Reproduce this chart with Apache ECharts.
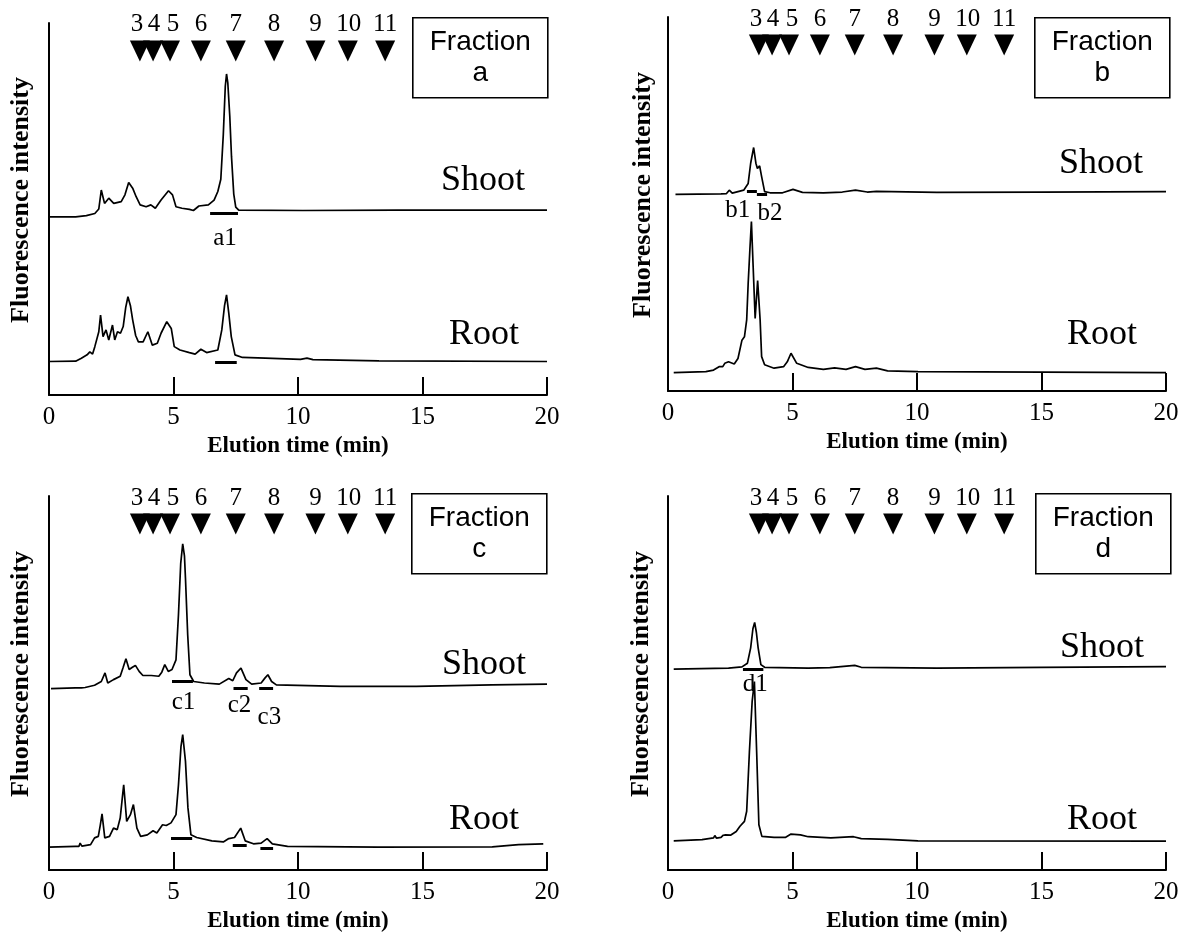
<!DOCTYPE html>
<html>
<head>
<meta charset="utf-8">
<script src="https://cdn.jsdelivr.net/npm/echarts/dist/echarts.min.js"></script>
<style>
  html, body { margin: 0; padding: 0; background: #ffffff; }
  #chart { width: 1190px; height: 936px; }
</style>
</head>
<body>
<div id="chart"></div>
<script>
// ---- Data: chromatogram traces [elution time (min), displayed intensity] ----
// Shoot traces sit above the root traces on the same intensity scale.
const shootA = [[0,47.9],[1.07,47.9],[1.5,48.2],[1.84,48.8],[2.0,50.0],[2.1,55.1],[2.23,51.5],[2.4,52.9],[2.6,51.5],[2.9,52.0],[3.05,53.8],[3.2,57.1],[3.36,55.6],[3.5,53.3],[3.66,51.1],[3.9,50.6],[4.09,51.1],[4.27,50.2],[4.5,52.4],[4.8,54.9],[4.96,53.8],[5.1,50.6],[5.34,50.2],[5.64,49.9],[5.8,49.6],[6.02,50.8],[6.4,51.1],[6.63,52.4],[6.78,54.7],[6.9,58.0],[7.0,70.0],[7.08,83.0],[7.13,86.3],[7.18,84.0],[7.26,75.0],[7.33,64.0],[7.42,54.0],[7.5,50.5],[7.62,49.7],[10.2,49.6],[14,49.7],[20,49.7]];
const rootA = [[0,9.0],[1.07,9.1],[1.3,9.9],[1.53,10.8],[1.64,11.6],[1.75,11.0],[1.84,13.0],[2.0,17.0],[2.07,21.5],[2.17,15.7],[2.29,17.5],[2.4,14.8],[2.55,18.8],[2.64,14.8],[2.75,17.0],[2.87,16.6],[2.98,18.4],[3.08,23.5],[3.17,26.4],[3.27,24.0],[3.36,20.2],[3.48,16.0],[3.59,14.3],[3.78,14.3],[3.97,17.0],[4.15,13.4],[4.35,13.9],[4.5,16.6],[4.73,19.7],[4.91,17.9],[5.03,13.0],[5.26,12.1],[5.64,11.4],[5.87,11.0],[6.1,12.3],[6.33,11.4],[6.78,12.1],[6.94,17.5],[7.05,24.0],[7.13,26.9],[7.22,22.0],[7.32,15.7],[7.47,10.8],[7.77,10.1],[8.69,9.9],[10.1,9.6],[10.36,9.9],[10.6,9.5],[13.25,9.2],[20,9.0]];

const shootB = [[0.3,52.6],[2.13,52.7],[2.35,52.8],[2.46,53.7],[2.58,52.9],[2.66,53.0],[3.04,53.7],[3.22,55.5],[3.32,60.9],[3.44,65.1],[3.53,60.9],[3.59,59.5],[3.68,60.2],[3.76,57.3],[3.88,53.3],[4.1,53.0],[4.6,53.0],[5.02,53.9],[5.4,53.1],[6.24,53.0],[7.0,53.2],[7.53,53.7],[8.0,53.2],[8.37,53.4],[10.8,53.1],[15,53.2],[20,53.3]];
const rootB = [[0.23,4.9],[1.52,5.2],[1.83,5.6],[2.05,6.5],[2.12,7.0],[2.2,6.5],[2.28,7.4],[2.43,7.8],[2.66,7.2],[2.81,8.7],[2.97,13.6],[3.07,14.5],[3.16,19.0],[3.22,28.8],[3.29,38.0],[3.35,45.3],[3.42,33.2],[3.5,19.4],[3.6,29.5],[3.7,19.0],[3.76,9.2],[3.88,7.0],[4.26,6.1],[4.64,6.5],[4.79,7.8],[4.94,10.1],[5.17,7.4],[5.63,6.3],[6.24,5.8],[6.69,6.2],[7.15,5.8],[7.53,6.5],[7.91,5.8],[8.37,6.1],[8.82,5.4],[10.04,5.2],[20,4.9]];

const shootC = [[0.08,48.5],[1.06,48.7],[1.3,48.7],[1.37,49.1],[1.45,48.8],[1.83,49.4],[2.1,50.4],[2.25,52.7],[2.36,50.0],[2.59,50.9],[2.86,51.8],[2.97,54.0],[3.09,56.5],[3.22,53.6],[3.35,54.2],[3.47,54.7],[3.62,53.1],[3.77,52.0],[4.11,52.0],[4.41,51.8],[4.53,52.9],[4.65,54.9],[4.79,53.1],[4.94,53.6],[5.1,56.2],[5.2,68.3],[5.29,82.0],[5.37,87.2],[5.44,84.0],[5.48,78.1],[5.57,62.9],[5.66,52.2],[5.81,50.4],[6.24,50.0],[6.84,49.7],[7.22,51.2],[7.38,50.6],[7.53,52.7],[7.71,54.0],[7.91,50.9],[8.14,49.7],[8.52,50.0],[8.67,51.3],[8.79,52.2],[8.94,50.4],[9.13,49.5],[11.7,49.1],[14.75,49.1],[17.8,49.5],[20,49.7]];
const rootC = [[0,6.1],[1.06,6.3],[1.2,6.3],[1.25,7.2],[1.32,6.4],[1.67,6.8],[1.83,8.6],[1.98,9.0],[2.06,12.0],[2.13,15.0],[2.24,8.6],[2.43,9.0],[2.59,11.2],[2.74,10.8],[2.86,13.9],[2.94,19.0],[3.0,22.8],[3.12,13.0],[3.27,14.8],[3.39,17.5],[3.53,11.2],[3.68,9.0],[3.95,9.4],[4.18,10.5],[4.33,9.9],[4.56,12.1],[4.71,11.9],[4.9,12.6],[5.1,14.8],[5.2,22.8],[5.3,33.0],[5.37,36.2],[5.48,29.1],[5.58,16.6],[5.7,9.4],[5.93,8.7],[6.54,7.8],[7.0,7.5],[7.22,8.4],[7.45,8.7],[7.7,11.2],[7.88,7.8],[8.21,7.0],[8.52,7.2],[8.76,8.4],[8.97,7.0],[9.58,6.3],[13.2,6.1],[17.8,6.2],[18.86,6.8],[19.85,7.0]];

const shootD = [[0.23,53.7],[2.43,54.0],[2.97,54.3],[3.19,55.3],[3.32,59.4],[3.41,64.5],[3.48,66.2],[3.55,63.5],[3.62,59.4],[3.73,54.9],[3.88,54.2],[5.63,54.0],[6.5,54.1],[7.5,54.7],[7.76,54.2],[10.8,54.0],[15,54.2],[20,54.4]];
const rootD = [[0.23,7.8],[1.37,8.1],[1.83,8.6],[1.88,9.2],[1.95,8.5],[2.13,8.7],[2.22,9.3],[2.31,9.4],[2.51,9.3],[2.74,10.3],[2.89,11.7],[3.07,13.0],[3.16,15.7],[3.27,31.7],[3.38,45.1],[3.47,50.4],[3.56,31.7],[3.65,12.1],[3.77,9.0],[4.26,8.7],[4.71,8.7],[4.94,9.6],[5.32,9.4],[5.63,8.9],[6.54,8.6],[7.45,8.9],[7.76,8.4],[8.82,8.2],[10.04,7.8],[20,7.7]];

// Collected fractions: [start, end, level]
const barsA = [[6.47,7.59,48.9],[6.67,7.54,8.8]];
const barsB = [[3.17,3.57,53.4],[3.57,3.98,52.5]];
const barsC = [[4.94,5.78,50.4],[7.41,7.98,48.7],[8.44,9.0,48.7],[4.9,5.75,8.4],[7.38,7.94,6.6],[8.49,9.0,5.9]];
const barsD = [[3.01,3.83,53.7]];

// Fraction names [time, level, text]
const peakNamesA = [[7.07,42.0,'a1']];
const peakNamesB = [[2.8,48.4,'b1'],[4.1,47.6,'b2']];
const peakNamesC = [[5.4,44.7,'c1'],[7.65,44.0,'c2'],[8.85,40.9,'c3']];
const peakNamesD = [[3.5,49.6,'d1']];

// Standard markers (elution times) and their numbers
const standardTimes = [3.65, 4.18, 4.86, 6.1, 7.5, 9.04, 10.7, 12.0, 13.5];
const standardNames = ['3','4','5','6','7','8','9','10','11'];

const xTicks = [0, 5, 10, 15, 20];

// ---- Layout ----
const SERIF = '"Liberation Serif", "Times New Roman", serif';
const SANS = '"Liberation Sans", Arial, sans-serif';
const markerLevel = 92.5;
// horizontal nudges so the crowded marker numbers stay readable
const markerLabelShift = [-3, 1, 3, 0, 0, 0, 0, 1, 0];

const panels = [
  { frac: 'a', shoot: shootA, root: rootA, bars: barsA, names: peakNamesA,
    grid: { left: 49, top: 23, width: 498, height: 372 }, yGap: 15,
    box: [412, 17], shootLbl: [483, 181], rootLbl: [484, 335] },
  { frac: 'b', shoot: shootB, root: rootB, bars: barsB, names: peakNamesB,
    grid: { left: 668, top: 17, width: 498, height: 374 }, yGap: 12,
    box: [1034, 17], shootLbl: [1101, 164], rootLbl: [1102, 335] },
  { frac: 'c', shoot: shootC, root: rootC, bars: barsC, names: peakNamesC,
    grid: { left: 49, top: 496, width: 498, height: 374 }, yGap: 15,
    box: [411, 493], shootLbl: [484, 665], rootLbl: [484, 820] },
  { frac: 'd', shoot: shootD, root: rootD, bars: barsD, names: peakNamesD,
    grid: { left: 668, top: 496, width: 498, height: 374 }, yGap: 14,
    box: [1035, 493], shootLbl: [1102, 648], rootLbl: [1102, 820] }
];

const grids = [], xAxes = [], yAxes = [], series = [], graphics = [];

panels.forEach((p, i) => {
  grids.push(Object.assign({ containLabel: false }, p.grid));

  xAxes.push({
    gridIndex: i, type: 'value', min: xTicks[0], max: xTicks[xTicks.length - 1], interval: 5,
    name: 'Elution time (min)', nameLocation: 'middle', nameGap: 40,
    nameTextStyle: { fontFamily: SERIF, fontWeight: 'bold', fontSize: 23, color: '#000' },
    axisLine: { show: true, onZero: false, lineStyle: { color: '#000', width: 2 } },
    axisTick: { show: true, inside: true, length: 18, lineStyle: { color: '#000', width: 2 } },
    axisLabel: { fontFamily: SERIF, fontSize: 25, color: '#000', margin: 10 },
    splitLine: { show: false }
  });

  yAxes.push({
    gridIndex: i, type: 'value', min: 0, max: 100,
    name: 'Fluorescence intensity', nameLocation: 'middle', nameGap: p.yGap, nameRotate: 90,
    nameTextStyle: { fontFamily: SERIF, fontWeight: 'bold', fontSize: 26, color: '#000', padding: [0, 0, 0, 18] },
    axisLine: { show: true, onZero: false, lineStyle: { color: '#000', width: 2 } },
    axisTick: { show: false }, axisLabel: { show: false }, splitLine: { show: false }
  });

  const traceStyle = { color: '#000', width: 1.7 };
  [p.shoot, p.root].forEach(trace => {
    series.push({
      type: 'line', xAxisIndex: i, yAxisIndex: i, data: trace,
      symbol: 'none', lineStyle: traceStyle, silent: true, animation: false, z: 3
    });
  });

  series.push({
    type: 'lines', coordinateSystem: 'cartesian2d', xAxisIndex: i, yAxisIndex: i,
    data: p.bars.map(b => ({ coords: [[b[0], b[2]], [b[1], b[2]]] })),
    lineStyle: { color: '#000', width: 3.2, opacity: 1 }, silent: true, animation: false, z: 4
  });

  series.push({
    type: 'scatter', xAxisIndex: i, yAxisIndex: i, symbolSize: 0, silent: true, animation: false,
    itemStyle: { opacity: 1 },
    data: p.names.map(n => ({ value: [n[0], n[1]], name: n[2] })),
    label: { show: true, position: 'inside', formatter: '{b}', fontFamily: SERIF, fontSize: 25, color: '#000', opacity: 1 },
    z: 5
  });

  series.push({
    type: 'scatter', xAxisIndex: i, yAxisIndex: i, silent: true, animation: false,
    symbol: 'triangle', symbolRotate: 180, symbolSize: [20, 21],
    itemStyle: { color: '#000', opacity: 1 },
    data: standardTimes.map((t, k) => ({
      value: [t, markerLevel], name: standardNames[k],
      label: { offset: [markerLabelShift[k], 0] }
    })),
    label: { show: true, position: 'top', distance: 3, formatter: '{b}', fontFamily: SERIF, fontSize: 25, color: '#000', opacity: 1 },
    z: 5
  });

  graphics.push({
    type: 'group', left: p.box[0], top: p.box[1],
    children: [
      { type: 'rect', shape: { x: 0, y: 0, width: 135, height: 80 },
        style: { fill: '#fff', stroke: '#000', lineWidth: 1.6 } },
      { type: 'text', x: 67.5, y: 40,
        style: { text: 'Fraction\n' + p.frac, font: '28px ' + SANS, fill: '#000',
                 align: 'center', verticalAlign: 'middle', lineHeight: 31 } }
    ]
  });
  graphics.push({ type: 'text', x: p.shootLbl[0], y: p.shootLbl[1],
    style: { text: 'Shoot', font: '36px ' + SERIF, fill: '#000', align: 'center', verticalAlign: 'middle' } });
  graphics.push({ type: 'text', x: p.rootLbl[0], y: p.rootLbl[1],
    style: { text: 'Root', font: '36px ' + SERIF, fill: '#000', align: 'center', verticalAlign: 'middle' } });
});

const chart = echarts.init(document.getElementById('chart'), null, { renderer: 'canvas' });
chart.setOption({
  backgroundColor: '#ffffff',
  animation: false,
  grid: grids, xAxis: xAxes, yAxis: yAxes, series: series, graphic: graphics
});
</script>
</body>
</html>
